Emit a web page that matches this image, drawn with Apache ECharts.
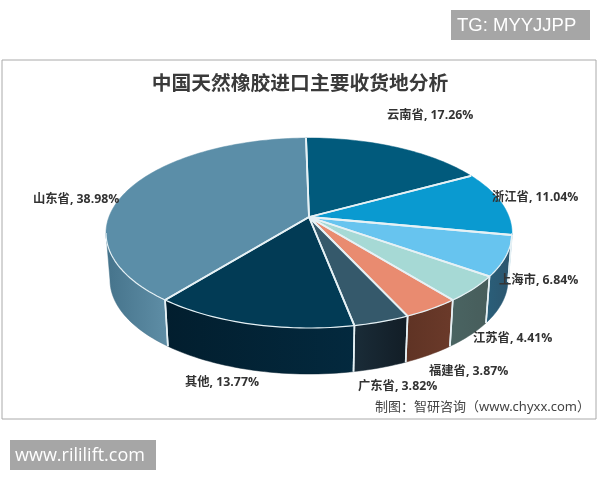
<!DOCTYPE html>
<html><head><meta charset="utf-8">
<style>html,body{margin:0;padding:0;background:#fff}#c{width:600px;height:480px}</style>
<script src="https://cdn.jsdelivr.net/npm/echarts@6/dist/echarts.min.js"></script>
</head><body><div id="c"></div>
<script>
const categories = ['云南省','浙江省','上海市','江苏省','福建省','广东省','其他','山东省'];
const shares = [17.26,11.04,6.84,4.41,3.87,3.82,13.77,38.98];
const topColors = ['#015a7c','#0a9ad0','#67c4ef','#a6d9d5','#e98b70','#35596b','#023b55','#5b8ea8'];
const wallColors = [['#015a7c','#015a7c'],['#0a7ba8','#0a7ba8'],['#2a5f7a','#2c546c'],['#4a6462','#475d5b'],['#5f3324','#6b3a2a'],['#1a2c38','#121d26'],['#021e2e','#03293e'],['#45738b','#5f8ea6']];
const labelSpots = [[387,115],[492,197],[499,280],[473,338],[429,371],[358,386],[185,382],[33,199]];

const TOP = {cx:309, cy:233, rx:203, ry:95};
const BASE = {cx:309, cy:280, rx:199, ry:94};
const TILT = 16/95, START_DEG = -1, STEP = 1.5;
const EDGE = '#e6f1f5';

function rimPoint(deg, e){
  const t = deg*Math.PI/180, u = Math.sin(t), v = Math.cos(t);
  const d = 1 + TILT*v;
  return [e.cx + e.rx*u*Math.sqrt(1-TILT*TILT)/d, e.cy - e.ry*(v+TILT)/d];
}
function sweep(a,b){
  const n = Math.max(2, Math.ceil((b-a)/STEP)), out = [];
  for(let i=0;i<=n;i++) out.push(a+(b-a)*i/n);
  return out;
}
const total = shares.reduce((s,v)=>s+v,0);
const wallFrom = 180 - Math.acos(TILT)*180/Math.PI;
const wallTo = 360 - wallFrom;
const line = (pts,w,z)=>({type:'polyline', z2:z, shape:{points:pts}, style:{fill:null, stroke:EDGE, lineWidth:w, lineJoin:'round'}});

function renderItem(params, api){
  const i = params.dataIndex, val = api.value(0);
  let before = 0; for(let k=0;k<i;k++) before += shares[k];
  const a = START_DEG + before/total*360, b = a + val/total*360;
  const kids = [];
  const wa = Math.max(a, wallFrom), wb = Math.min(b, wallTo);
  if(wb > wa){
    const angs = sweep(wa,wb);
    const rim = angs.map(d=>rimPoint(d,TOP));
    const pts = rim.concat(angs.slice().reverse().map(d=>rimPoint(d,BASE)));
    kids.push({type:'polygon', z2:1, shape:{points:pts}, style:{
      fill:new echarts.graphic.LinearGradient(0,0,1,0,[{offset:0,color:wallColors[i][0]},{offset:1,color:wallColors[i][1]}]),
      stroke:wallColors[i][0], lineWidth:0.5}});
    if(wa===a) kids.push(line([rimPoint(a,TOP),rimPoint(a,BASE)],1.6,3));
    if(wb===b) kids.push(line([rimPoint(b,TOP),rimPoint(b,BASE)],1.6,3));
    kids.push(line(rim,1.2,4));
  }
  const pivot = [TOP.cx, TOP.cy - TOP.ry*TILT];
  const pts = [pivot];
  sweep(a,b).forEach(d=>pts.push(rimPoint(d,TOP)));
  kids.push({type:'polygon', z2:2, shape:{points:pts}, style:{fill:topColors[i], stroke:topColors[i], lineWidth:0.5}});
  kids.push(line([rimPoint(a,TOP),pivot,rimPoint(b,TOP)],1.8,4));
  kids.push({type:'text', z2:5, x:labelSpots[i][0], y:labelSpots[i][1], style:{
    text:categories[i]+', '+val.toFixed(2)+'%', fill:'#333', font:'bold 12.3px "Open Sans","Noto Sans CJK SC",sans-serif', verticalAlign:'middle', align:'left'}});
  return {type:'group', children:kids};
}

const chart = echarts.init(document.getElementById('c'), null, {renderer:'canvas'});
chart.setOption({
  animation:false,
  backgroundColor:'#fff',
  title:{text:'中国天然橡胶进口主要收货地分析', left:295, top:68, textAlign:'center',
    textStyle:{fontFamily:'"Noto Sans CJK SC"', fontSize:19.8, fontWeight:'bold', color:'#3a3a3a'}},
  graphic:[
    {type:'rect', z:-1, shape:{x:2,y:60,width:594,height:359}, style:{fill:'#fff', stroke:'#aaa', lineWidth:1}},
    {type:'rect', shape:{x:451,y:10,width:139,height:30}, style:{fill:'#a6a6a6'}},
    {type:'text', x:457, y:26, style:{text:'TG: MYYJJPP', fill:'#fff', font:'18.5px "Liberation Sans",sans-serif', verticalAlign:'middle'}},
    {type:'rect', shape:{x:10,y:440,width:146,height:30}, style:{fill:'#a6a6a6'}},
    {type:'text', x:15, y:456, style:{text:'www.rililift.com', fill:'#fff', font:'18px "Open Sans",sans-serif', verticalAlign:'middle'}},
    {type:'text', x:375, y:407, style:{text:'制图：智研咨询（www.chyxx.com）', fill:'#444', font:'13px "Noto Sans","Noto Sans CJK SC",sans-serif', verticalAlign:'middle'}}
  ],
  series:[{type:'custom', coordinateSystem:'none', renderItem, data:shares.map(v=>[v]), silent:true}]
});
</script></body></html>
